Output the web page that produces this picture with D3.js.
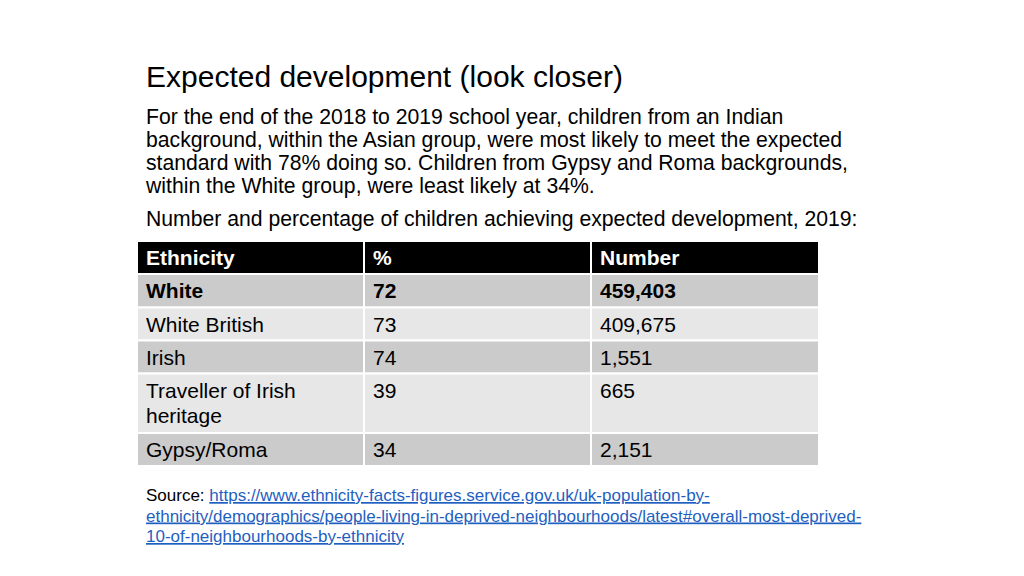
<!DOCTYPE html>
<html><head><meta charset="utf-8">
<script src="https://cdn.jsdelivr.net/npm/d3@7"></script>
<style>html,body{margin:0;padding:0;background:#fff;} svg text{font-family:"Liberation Sans",Arial,sans-serif;}</style>
</head><body>
<svg id="c" width="1024" height="576"></svg>
<script>
const title = "Expected development (look closer)";
const paragraph = [
  "For the end of the 2018 to 2019 school year, children from an Indian",
  "background, within the Asian group, were most likely to meet the expected",
  "standard with 78% doing so. Children from Gypsy and Roma backgrounds,",
  "within the White group, were least likely at 34%."
];
const caption = "Number and percentage of children achieving expected development, 2019:";
const headers = ["Ethnicity", "%", "Number"];
const ethnicities = [["White"], ["White British"], ["Irish"], ["Traveller of Irish", "heritage"], ["Gypsy/Roma"]];
const percents = [72, 73, 74, 39, 34];
const numbers = [459403, 409675, 1551, 665, 2151];
const sourceLabel = "Source: ";
const sourceLines = [
  "https://www.ethnicity-facts-figures.service.gov.uk/uk-population-by-",
  "ethnicity/demographics/people-living-in-deprived-neighbourhoods/latest#overall-most-deprived-",
  "10-of-neighbourhoods-by-ethnicity"
];

const svg = d3.select("#c");
svg.append("text").attr("x", 146).attr("y", 87).attr("font-size", 30).attr("fill", "#000").text(title);
svg.selectAll("text.p").data(paragraph).join("text").attr("class", "p")
  .attr("x", 146).attr("y", (d, i) => 124 + i * 23).attr("font-size", 21.2).attr("fill", "#000").text(d => d);
svg.append("text").attr("x", 146).attr("y", 226).attr("font-size", 21.2).text(caption);

// table
const colEdges = [137, 364, 591, 819];
const rowEdges = [241, 274, 307.5, 340.5, 373.5, 433, 466];
const fmt = d3.format(",");
const rows = ethnicities.map((e, i) => ({cells: [e, [String(percents[i])], [fmt(numbers[i])]], bold: i === 0, dark: i % 2 === 0}));
const g = svg.append("g");
headers.forEach((h, j) => {
  g.append("rect").attr("x", colEdges[j]).attr("y", rowEdges[0]).attr("width", colEdges[j+1]-colEdges[j]).attr("height", rowEdges[1]-rowEdges[0])
    .attr("fill", "#000").attr("stroke", "#fff").attr("stroke-width", 2);
  g.append("text").attr("x", colEdges[j] + 9).attr("y", rowEdges[0] + 24).attr("font-size", 21).attr("font-weight", "bold").attr("fill", "#fff").text(h);
});
rows.forEach((r, i) => {
  const y0 = rowEdges[i+1], y1 = rowEdges[i+2];
  r.cells.forEach((lines, j) => {
    g.append("rect").attr("x", colEdges[j]).attr("y", y0).attr("width", colEdges[j+1]-colEdges[j]).attr("height", y1-y0)
      .attr("fill", r.dark ? "#cbcbcb" : "#e7e7e7").attr("stroke", "#fff").attr("stroke-width", 2);
    lines.forEach((t, k) => {
      g.append("text").attr("x", colEdges[j] + 9).attr("y", y0 + 24 + k * 25).attr("font-size", 21)
        .attr("font-weight", r.bold ? "bold" : "normal").attr("fill", "#000").text(t);
    });
  });
});

const s = svg.append("g").attr("font-size", 17);
sourceLines.forEach((line, i) => {
  const t = s.append("text").attr("x", 146).attr("y", 501 + i * 20.5);
  if (i === 0) t.append("tspan").attr("fill", "#000").text(sourceLabel);
  t.append("tspan").attr("fill", "#1f5fbf").attr("text-decoration", "underline").text(line);
});
</script>
</body></html>
